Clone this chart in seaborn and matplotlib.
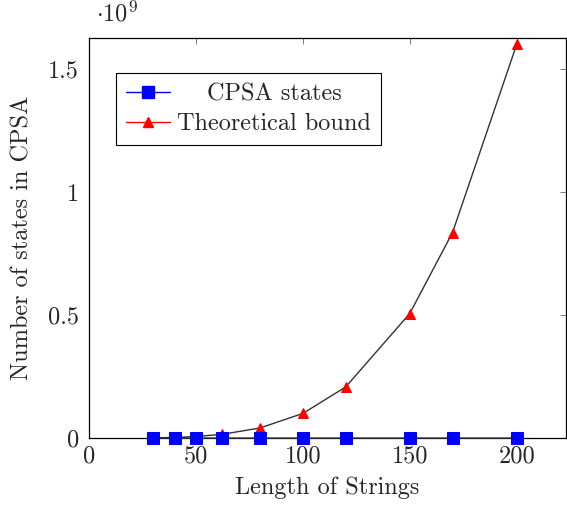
import matplotlib
matplotlib.use("Agg")
import matplotlib.pyplot as plt
from matplotlib.lines import Line2D
import seaborn as sns
import pandas as pd

# String lengths and the measured / theoretical state counts
lengths = [30, 40, 50, 62, 80, 100, 120, 150, 170, 200]
cpsa_states = [310, 520, 800, 1200, 2000, 3100, 4500, 7000, 9000, 12500]
theoretical_bound = [810000, 2560000, 6250000, 14776336, 40960000,
                     100000000, 207360000, 506250000, 835210000, 1600000000]

df = pd.DataFrame({"length": lengths, "cpsa": cpsa_states, "bound": theoretical_bound})

sns.set_theme(style="white")
plt.rcParams["font.family"] = ["serif"]
plt.rcParams["font.serif"] = ["cmr10", "DejaVu Serif"]
plt.rcParams["mathtext.fontset"] = "cm"
plt.rcParams["axes.formatter.use_mathtext"] = True

FS = 17.5

fig = plt.figure(figsize=(5.67, 5.07), dpi=100)
ax = fig.add_axes([0.157, 0.136, 0.841, 0.789])

line_col = "#333333"
sns.lineplot(data=df, x="length", y="cpsa", ax=ax, color=line_col, linewidth=1.0,
             marker="s", markersize=8, markerfacecolor="#0000ff",
             markeredgecolor="#0000ff", legend=False, clip_on=False, zorder=3)
sns.lineplot(data=df, x="length", y="bound", ax=ax, color=line_col, linewidth=1.0,
             marker="^", markersize=7, markerfacecolor="#ff0000",
             markeredgecolor="#ff0000", legend=False, clip_on=False, zorder=2)

ax.set_xlim(0, 223)
ax.set_ylim(0, 1.626e9)
ax.set_xticks([0, 50, 100, 150, 200])
ax.set_xticklabels(["0", "50", "100", "150", "200"])
ax.set_yticks([0, 0.5e9, 1.0e9, 1.5e9])
ax.set_yticklabels(["0", "0.5", "1", "1.5"])
ax.tick_params(direction="in", length=4, width=0.6, color="#666666",
               top=True, right=True, labelsize=FS)
ax.tick_params(axis="x", pad=5)
ax.tick_params(axis="y", pad=7)
for s in ax.spines.values():
    s.set_color("black")
    s.set_linewidth(0.9)

ax.set_xlabel("Length of Strings", fontsize=FS, labelpad=6.5)
ax.set_ylabel("Number of states in CPSA", fontsize=FS, labelpad=11)
ax.text(0.015, 1.03, r"$\cdot 10^{9}$", transform=ax.transAxes, fontsize=FS,
        ha="left", va="bottom")

handles = [
    Line2D([], [], color="#0000ff", linewidth=1.0, marker="s", markersize=8,
           markerfacecolor="#0000ff", markeredgecolor="#0000ff"),
    Line2D([], [], color="#ff0000", linewidth=1.0, marker="^", markersize=7,
           markerfacecolor="#ff0000", markeredgecolor="#ff0000"),
]
leg = ax.legend(handles, ["CPSA states", "Theoretical bound"], loc="upper left",
                bbox_to_anchor=(0.0566, 0.9125), borderaxespad=0, fontsize=FS,
                frameon=True, fancybox=False, edgecolor="black", framealpha=1,
                handlelength=1.8, handletextpad=0.3, borderpad=0.42,
                labelspacing=0.32)
leg.get_frame().set_linewidth(0.8)

# center the legend entries within the text column
fig.canvas.draw()
renderer = fig.canvas.get_renderer()
texts = leg.get_texts()
widths = [t.get_window_extent(renderer).width for t in texts]
shift = max(widths)
for t, w in zip(texts, widths):
    t.set_position(((shift - w) / 2, 0))

fig.savefig("out.png", dpi=100)
